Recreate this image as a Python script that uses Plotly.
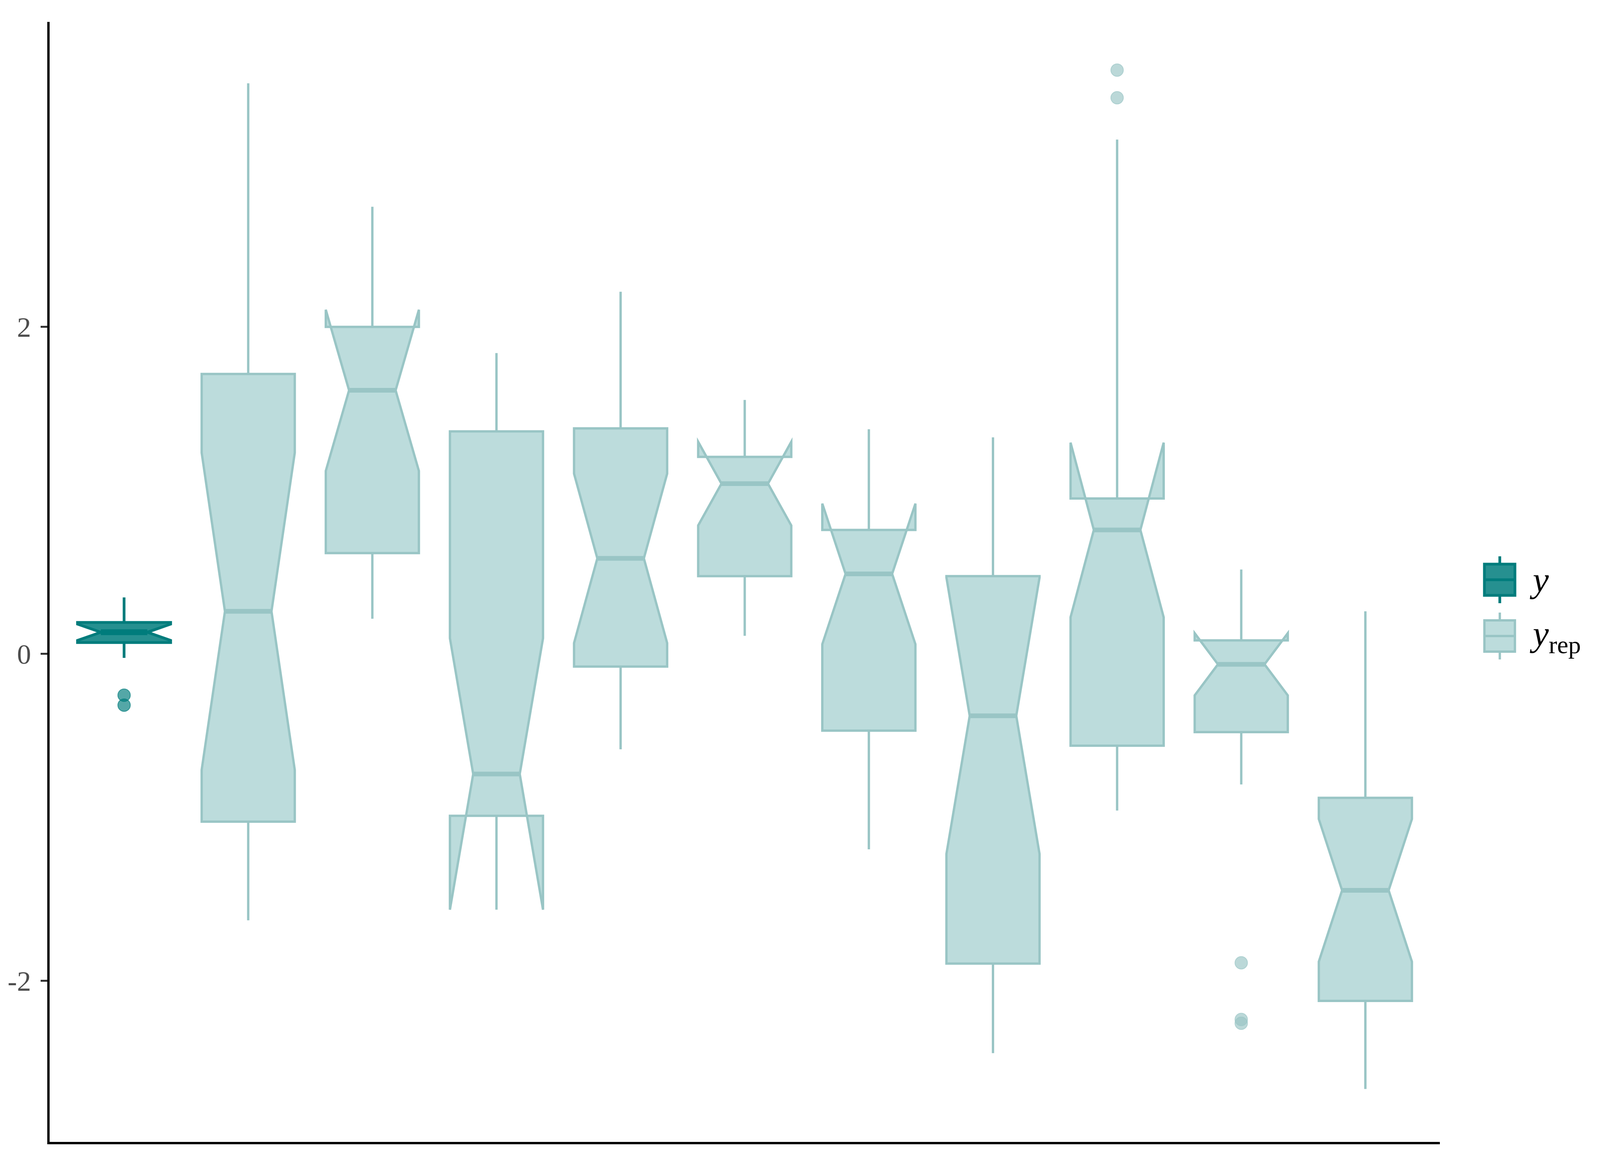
import plotly.graph_objects as go

# ------------------------
# Observed y: one notched box
# ------------------------
obs_x = [1]
obs_q1 = [0.069]
obs_median = [0.132]
obs_q3 = [0.192]
obs_lower = [-0.025]
obs_upper = [0.345]
obs_notch = [0.05]
obs_out_x = [1, 1]
obs_out_y = [-0.253, -0.314]

# ------------------------
# Replicated y_rep draws: ten notched boxes
# ------------------------
rep_x = [2, 3, 4, 5, 6, 7, 8, 9, 10, 11]
rep_q1 = [-1.027, 0.616, -0.991, -0.078, 0.475, -0.470, -1.895, -0.562, -0.479, -2.123]
rep_median = [0.260, 1.612, -0.735, 0.584, 1.041, 0.489, -0.379, 0.758, -0.064, -1.447]
rep_q3 = [1.712, 2.000, 1.361, 1.379, 1.205, 0.758, 0.475, 0.950, 0.082, -0.881]
rep_lower = [-1.630, 0.215, -1.219, -0.584, 0.110, -1.196, -2.443, -0.959, -0.799, -2.662]
rep_upper = [3.490, 2.735, 1.840, 2.215, 1.553, 1.374, 1.324, 3.146, 0.516, 0.260]
rep_notch = [0.970, 0.493, 0.830, 0.518, 0.256, 0.430, 0.845, 0.534, 0.190, 0.436]
rep_out_x = [9, 9, 10, 10, 10]
rep_out_y = [3.571, 3.402, -1.890, -2.237, -2.260]

y_tickvals = [-2, 0, 2]
y_ticktext = ["-2", "0", "2"]

# ------------------------
# Style
# ------------------------
DARK = "#007c7c"
DARK_FILL = "rgba(0,124,124,0.85)"
DARK_PT = "rgba(0,124,124,0.67)"
LIGHT = "#99c5c5"
LIGHT_FILL = "#bcdcdc"
LIGHT_PT = "rgba(153,197,197,0.67)"
BOX_W = 0.75
NOTCH_W = 0.25
SERIF = "Liberation Serif"

# reference geometry (6000 x 3000 image), used to place things as fractions
RW, RH = 6000, 3000
RL, RR, RT, RB = 160, 600, 56, 77
# the window the page actually gets (clamped to 4096 wide), body margin 8px
WW, WH, BODY = 4096, 3000, 8


def box_trace(x, q1, med, q3, lo, hi, notch, line, fill, lw):
    return go.Box(
        x=x, q1=q1, median=med, q3=q3,
        lowerfence=lo, upperfence=hi, notchspan=notch,
        notched=True, notchwidth=NOTCH_W, width=BOX_W, whiskerwidth=0,
        boxpoints=False, fillcolor=fill,
        line=dict(color=line, width=lw),
        showlegend=False, hoverinfo="skip",
    )


def median_trace(x, med, color, lw):
    # thicker median bar, as ggplot does (fatten = 2)
    half = BOX_W * (0.5 - NOTCH_W)
    xs, ys = [], []
    for xi, m in zip(x, med):
        xs += [xi - half, xi + half, None]
        ys += [m, m, None]
    return go.Scatter(x=xs, y=ys, mode="lines", line=dict(color=color, width=lw),
                      showlegend=False, hoverinfo="skip")


def outlier_trace(x, y, color):
    return go.Scatter(x=x, y=y, mode="markers",
                      marker=dict(size=32, color=color, line=dict(color=color, width=2)),
                      showlegend=False, hoverinfo="skip")


fig = go.Figure()
fig.add_trace(box_trace(obs_x, obs_q1, obs_median, obs_q3, obs_lower, obs_upper,
                        obs_notch, DARK, DARK_FILL, 7))
fig.add_trace(median_trace(obs_x, obs_median, DARK, 15))
fig.add_trace(outlier_trace(obs_out_x, obs_out_y, DARK_PT))

fig.add_trace(box_trace(rep_x, rep_q1, rep_median, rep_q3, rep_lower, rep_upper,
                        rep_notch, LIGHT, LIGHT_FILL, 6))
fig.add_trace(median_trace(rep_x, rep_median, LIGHT, 12))
fig.add_trace(outlier_trace(rep_out_x, rep_out_y, LIGHT_PT))

# ------------------------
# Legend keys drawn by hand (plotly's box icon is tiny at this size)
# ------------------------
pw, ph = RW - RL - RR, RH - RT - RB


def px(x):
    return (x - RL) / pw


def py(y):
    return (RH - RB - y) / ph


def legend_key(yc, line, fill, lw, label):
    x0, x1, xc = 5568, 5683, 5626
    shapes = [
        dict(type="line", x0=px(xc), x1=px(xc), y0=py(yc - 60), y1=py(yc - 40)),
        dict(type="line", x0=px(xc), x1=px(xc), y0=py(yc + 40), y1=py(yc + 60)),
        dict(type="rect", x0=px(x0), x1=px(x1), y0=py(yc - 40), y1=py(yc + 40),
             fillcolor=fill),
        dict(type="line", x0=px(x0), x1=px(x1), y0=py(yc), y1=py(yc)),
    ]
    for s in shapes:
        s.update(xref="paper", yref="paper", line=dict(color=line, width=lw))
        fig.add_shape(**s)
    fig.add_annotation(x=px(5735), y=py(yc), xref="paper", yref="paper",
                       text=label, showarrow=False, xanchor="left", yanchor="middle",
                       font=dict(family=SERIF, size=92, color="black"))


legend_key(1484, DARK, DARK_FILL, 7, "<i>y</i>")
legend_key(1628, LIGHT, LIGHT_FILL, 6, "<i>y</i><sub>rep</sub>")

# margins chosen so the plot area sits at the same fractions of the window
m_l = round(RL / RW * WW) - BODY
m_r = round(RR / RW * WW) - BODY
m_t = round(RT / RH * WH) - BODY
m_b = round(RB / RH * WH) - BODY

fig.update_layout(
    autosize=True,
    margin=dict(l=m_l, r=m_r, t=m_t, b=m_b),
    paper_bgcolor="white", plot_bgcolor="white",
    boxmode="overlay",
    xaxis=dict(range=[0.4, 11.6], showgrid=False, zeroline=False,
               showticklabels=False, ticks="",
               showline=True, linecolor="black", linewidth=6),
    yaxis=dict(range=[-2.986, 3.866], showgrid=False, zeroline=False,
               tickvals=y_tickvals, ticktext=y_ticktext,
               ticks="outside", ticklen=17, tickwidth=5, tickcolor="#333333",
               tickfont=dict(family=SERIF, size=72, color="#4d4d4d"),
               ticklabelstandoff=10,
               showline=True, linecolor="black", linewidth=6),
)

fig.write_html("out.html")
